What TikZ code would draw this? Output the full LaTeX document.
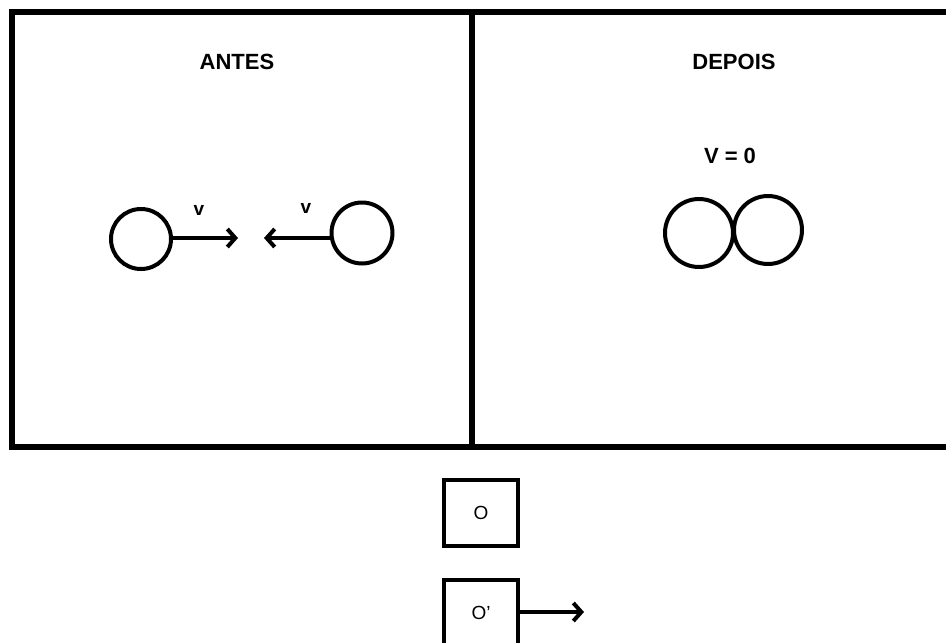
\documentclass[tikz,border=0pt]{standalone}
\usepackage{fontspec}
\setmainfont{Liberation Sans}
\usetikzlibrary{arrows.meta}
\tikzset{
  frame/.style={line width=5.5pt},
  ball/.style={circle, draw, line width=4pt, inner sep=0pt},
  vel/.style={line width=4pt, -{Straight Barb[length=8pt, width=18pt, line width=4pt]}},
  title/.style={font=\bfseries\fontsize{22}{26}\selectfont},
  lbl/.style={font=\bfseries\fontsize{19}{22}\selectfont},
  refbox/.style={draw, line width=4.5pt, minimum width=74pt, minimum height=66pt, inner sep=0pt,
    font=\fontsize{19}{22}\selectfont}
}
\begin{document}
\begin{tikzpicture}[x=1pt, y=-1pt]
\useasboundingbox (0,0) rectangle (946,643);
\clip (0,0) rectangle (946,643);

% panels
\draw[frame] (960,12) -- (12,12) -- (12,447) -- (960,447);
\draw[frame] (472,12) -- (472,447);

% before the collision
\node[title] (antes) at (237,62) {ANTES};
\node[ball, minimum size=60pt] (b1) at (141,239) {};
\node[ball, minimum size=61pt] (b2) at (362,233) {};
\coordinate (t1) at (238,238);
\coordinate (t2) at (264,238);
\draw[vel] (b1.east |- t1) -- (t1);
\draw[vel] (b2.west |- t2) -- (t2);
\node[lbl] (v1) at (199,210) {v};
\node[lbl] (v2) at (306,208) {v};

% after the collision
\node[title] (depois) at (734,62) {DEPOIS};
\node[lbl, font=\bfseries\fontsize{22}{26}\selectfont] (v0) at (730,156) {V = 0};
\node[ball, minimum size=68pt] (c1) at (699,233) {};
\node[ball, minimum size=68pt] (c2) at (768,230) {};

% reference frames
\node[refbox] (o) at (481,513) {O};
\node[refbox] (op) at (481,613) {O’};
\coordinate (t3) at (584,612);
\draw[vel] (op.east |- t3) -- (t3);
\end{tikzpicture}
\end{document}
